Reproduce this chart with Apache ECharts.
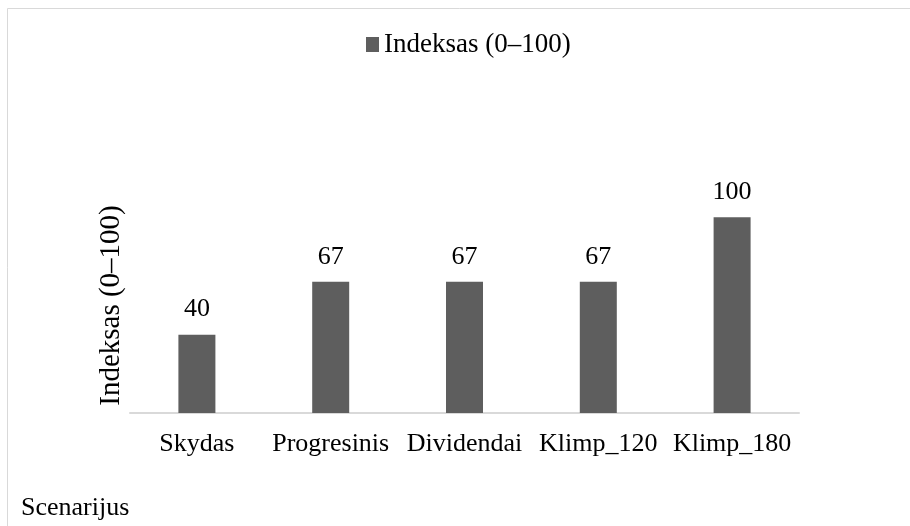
<!DOCTYPE html>
<html>
<head>
<meta charset="utf-8">
<script src="https://cdn.jsdelivr.net/npm/echarts@6/dist/echarts.min.js"></script>
<style>
html,body{margin:0;padding:0;background:#fff;}
#c{width:910px;height:526px;}
</style>
</head>
<body>
<div id="c"></div>
<script>
const categories = ["Skydas", "Progresinis", "Dividendai", "Klimp_120", "Klimp_180"];
const values = [40, 67, 67, 67, 100];
const seriesName = "Indeksas (0–100)";
const yAxisName = "Indeksas (0–100)";
const xAxisTitle = "Scenarijus";

const FONT = "'Liberation Serif', 'Times New Roman', serif";
const chart = echarts.init(document.getElementById('c'), null, {renderer: 'canvas'});
chart.setOption({
  animation: false,
  backgroundColor: '#ffffff',
  textStyle: {fontFamily: FONT},
  graphic: [
    {type: 'rect', silent: true, shape: {x: 7.5, y: 8.5, width: 920, height: 540},
     style: {fill: 'none', stroke: '#d9d9d9', lineWidth: 1}},
    {type: 'text', silent: true,
     style: {x: 21, y: 508, text: xAxisTitle, fontFamily: FONT, fontSize: 26, fill: '#000', verticalAlign: 'middle', align: 'left'}}
  ],
  legend: {
    top: 31,
    left: 366,
    padding: [0, 0, 0, 0],
    itemWidth: 13,
    itemHeight: 15,
    icon: 'rect',
    textStyle: {fontFamily: FONT, fontSize: 27, color: '#000'},
    data: [seriesName]
  },
  grid: {left: 130, right: 111, top: 178, bottom: 113, containLabel: false},
  xAxis: {
    type: 'category',
    data: categories,
    axisLine: {show: true, lineStyle: {color: '#d9d9d9', width: 2}},
    axisTick: {show: false},
    axisLabel: {fontFamily: FONT, fontSize: 26, color: '#000', margin: 18, interval: 0}
  },
  yAxis: {
    type: 'value',
    min: 0, max: 120, interval: 20,
    name: yAxisName,
    nameLocation: 'middle',
    nameGap: 4,
    nameTextStyle: {fontFamily: FONT, fontSize: 29, color: '#000', padding: [0, 20, 0, 0]},
    axisLine: {show: false},
    axisTick: {show: false},
    axisLabel: {show: false},
    splitLine: {show: false}
  },
  series: [{
    name: seriesName,
    type: 'bar',
    data: values,
    barWidth: 37,
    itemStyle: {color: '#5e5e5e'},
    label: {show: true, position: 'top', distance: 12, fontFamily: FONT, fontSize: 26, color: '#000'}
  }]
});
</script>
</body>
</html>
